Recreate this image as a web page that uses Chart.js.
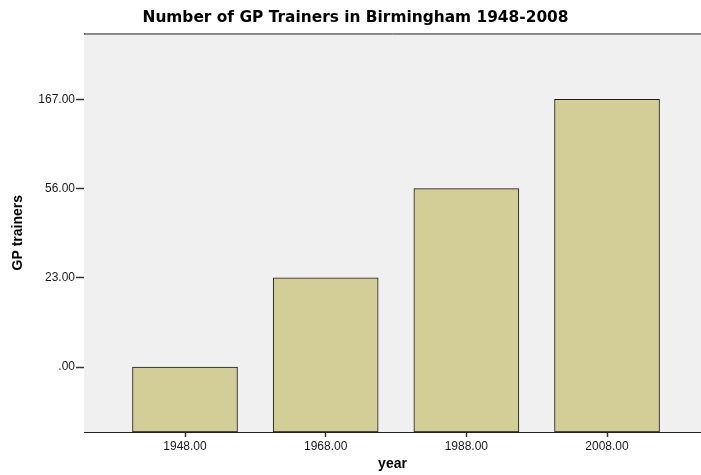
<!DOCTYPE html>
<html>
<head>
<meta charset="utf-8">
<script src="https://cdn.jsdelivr.net/npm/chart.js@4"></script>
<style>
  html, body { margin: 0; padding: 0; background: #fff; }
  #wrap { width: 701px; height: 475px; }
</style>
</head>
<body>
<div id="wrap"><canvas id="chart"></canvas></div>
<script>
/* Data */
const years = ['1948.00', '1968.00', '1988.00', '2008.00'];
const trainers = [0, 23, 56, 167];
// SPSS treats the y variable as ordinal: each distinct value gets its own evenly spaced level
const yLevels = [0, 23, 56, 167];
const yLabels = ['.00', '23.00', '56.00', '167.00'];

/* Axis ranges (in level / category units) */
const Y_MIN = -0.728, Y_MAX = 3.739;
const X_MIN = -0.718, X_MAX = 3.668;

const points = trainers.map((v, i) => ({ x: i, y: yLevels.indexOf(v) }));

const FONT = 'Arial, "Liberation Sans", sans-serif';

/* Plot background + top frame line */
const plotFrame = {
  id: 'plotFrame',
  beforeDatasetsDraw(chart) {
    const { ctx, chartArea: a } = chart;
    ctx.save();
    ctx.fillStyle = '#f0f0f0';
    ctx.fillRect(a.left, a.top, a.right - a.left, a.bottom - a.top);
    ctx.strokeStyle = '#222';
    ctx.lineWidth = 1;
    ctx.beginPath();
    ctx.moveTo(a.left, a.top + 0.5);
    ctx.lineTo(a.right, a.top + 0.5);
    ctx.stroke();
    ctx.restore();
  }
};

new Chart(document.getElementById('chart').getContext('2d'), {
  type: 'bar',
  data: {
    datasets: [{
      data: points,
      base: Y_MIN,
      backgroundColor: '#d3ce98',
      borderColor: '#1a1a1a',
      borderWidth: 1,
      borderSkipped: false,
      barThickness: 105
    }]
  },
  options: {
    responsive: true,
    maintainAspectRatio: false,
    animation: false,
    layout: { padding: { left: 10, right: 0, top: 0, bottom: 0 } },
    plugins: {
      legend: { display: false },
      tooltip: { enabled: false },
      title: {
        display: true,
        text: 'Number of GP Trainers in Birmingham 1948-2008',
        color: '#000',
        font: { family: '"DejaVu Sans", Arial, sans-serif', size: 15.4, weight: 'bold' },
        padding: { top: 9, bottom: 6 }
      }
    },
    scales: {
      x: {
        type: 'linear',
        offset: false,
        min: X_MIN, max: X_MAX,
        afterBuildTicks: s => { s.ticks = years.map((_, i) => ({ value: i })); },
        afterFit: s => { s.height = 43; },
        ticks: {
          color: '#1a1a1a',
          font: { family: FONT, size: 12 },
          padding: 2,
          maxRotation: 0,
          callback: v => years[v]
        },
        grid: { drawOnChartArea: false, offset: false, tickLength: 5, color: '#333', tickWidth: 1.5 },
        border: { color: '#222', width: 1 },
        title: {
          display: true, text: 'year', color: '#000',
          font: { family: FONT, size: 14, weight: 'bold' },
          padding: { top: 0, bottom: 2 }
        }
      },
      y: {
        type: 'linear',
        min: Y_MIN, max: Y_MAX,
        afterBuildTicks: s => { s.ticks = yLabels.map((_, i) => ({ value: i })); },
        afterFit: s => { s.width = 74; },
        ticks: {
          color: '#1a1a1a',
          font: { family: FONT, size: 12 },
          padding: 1,
          callback: v => yLabels[v]
        },
        grid: { drawOnChartArea: false, tickLength: 8, color: '#333', tickWidth: 1.5 },
        border: { color: '#222', width: 1 },
        title: {
          display: true, text: 'GP trainers', color: '#000',
          font: { family: FONT, size: 14, weight: 'bold' },
          padding: { top: 0, bottom: 0 }
        }
      }
    }
  },
  plugins: [plotFrame]
});
</script>
</body>
</html>
